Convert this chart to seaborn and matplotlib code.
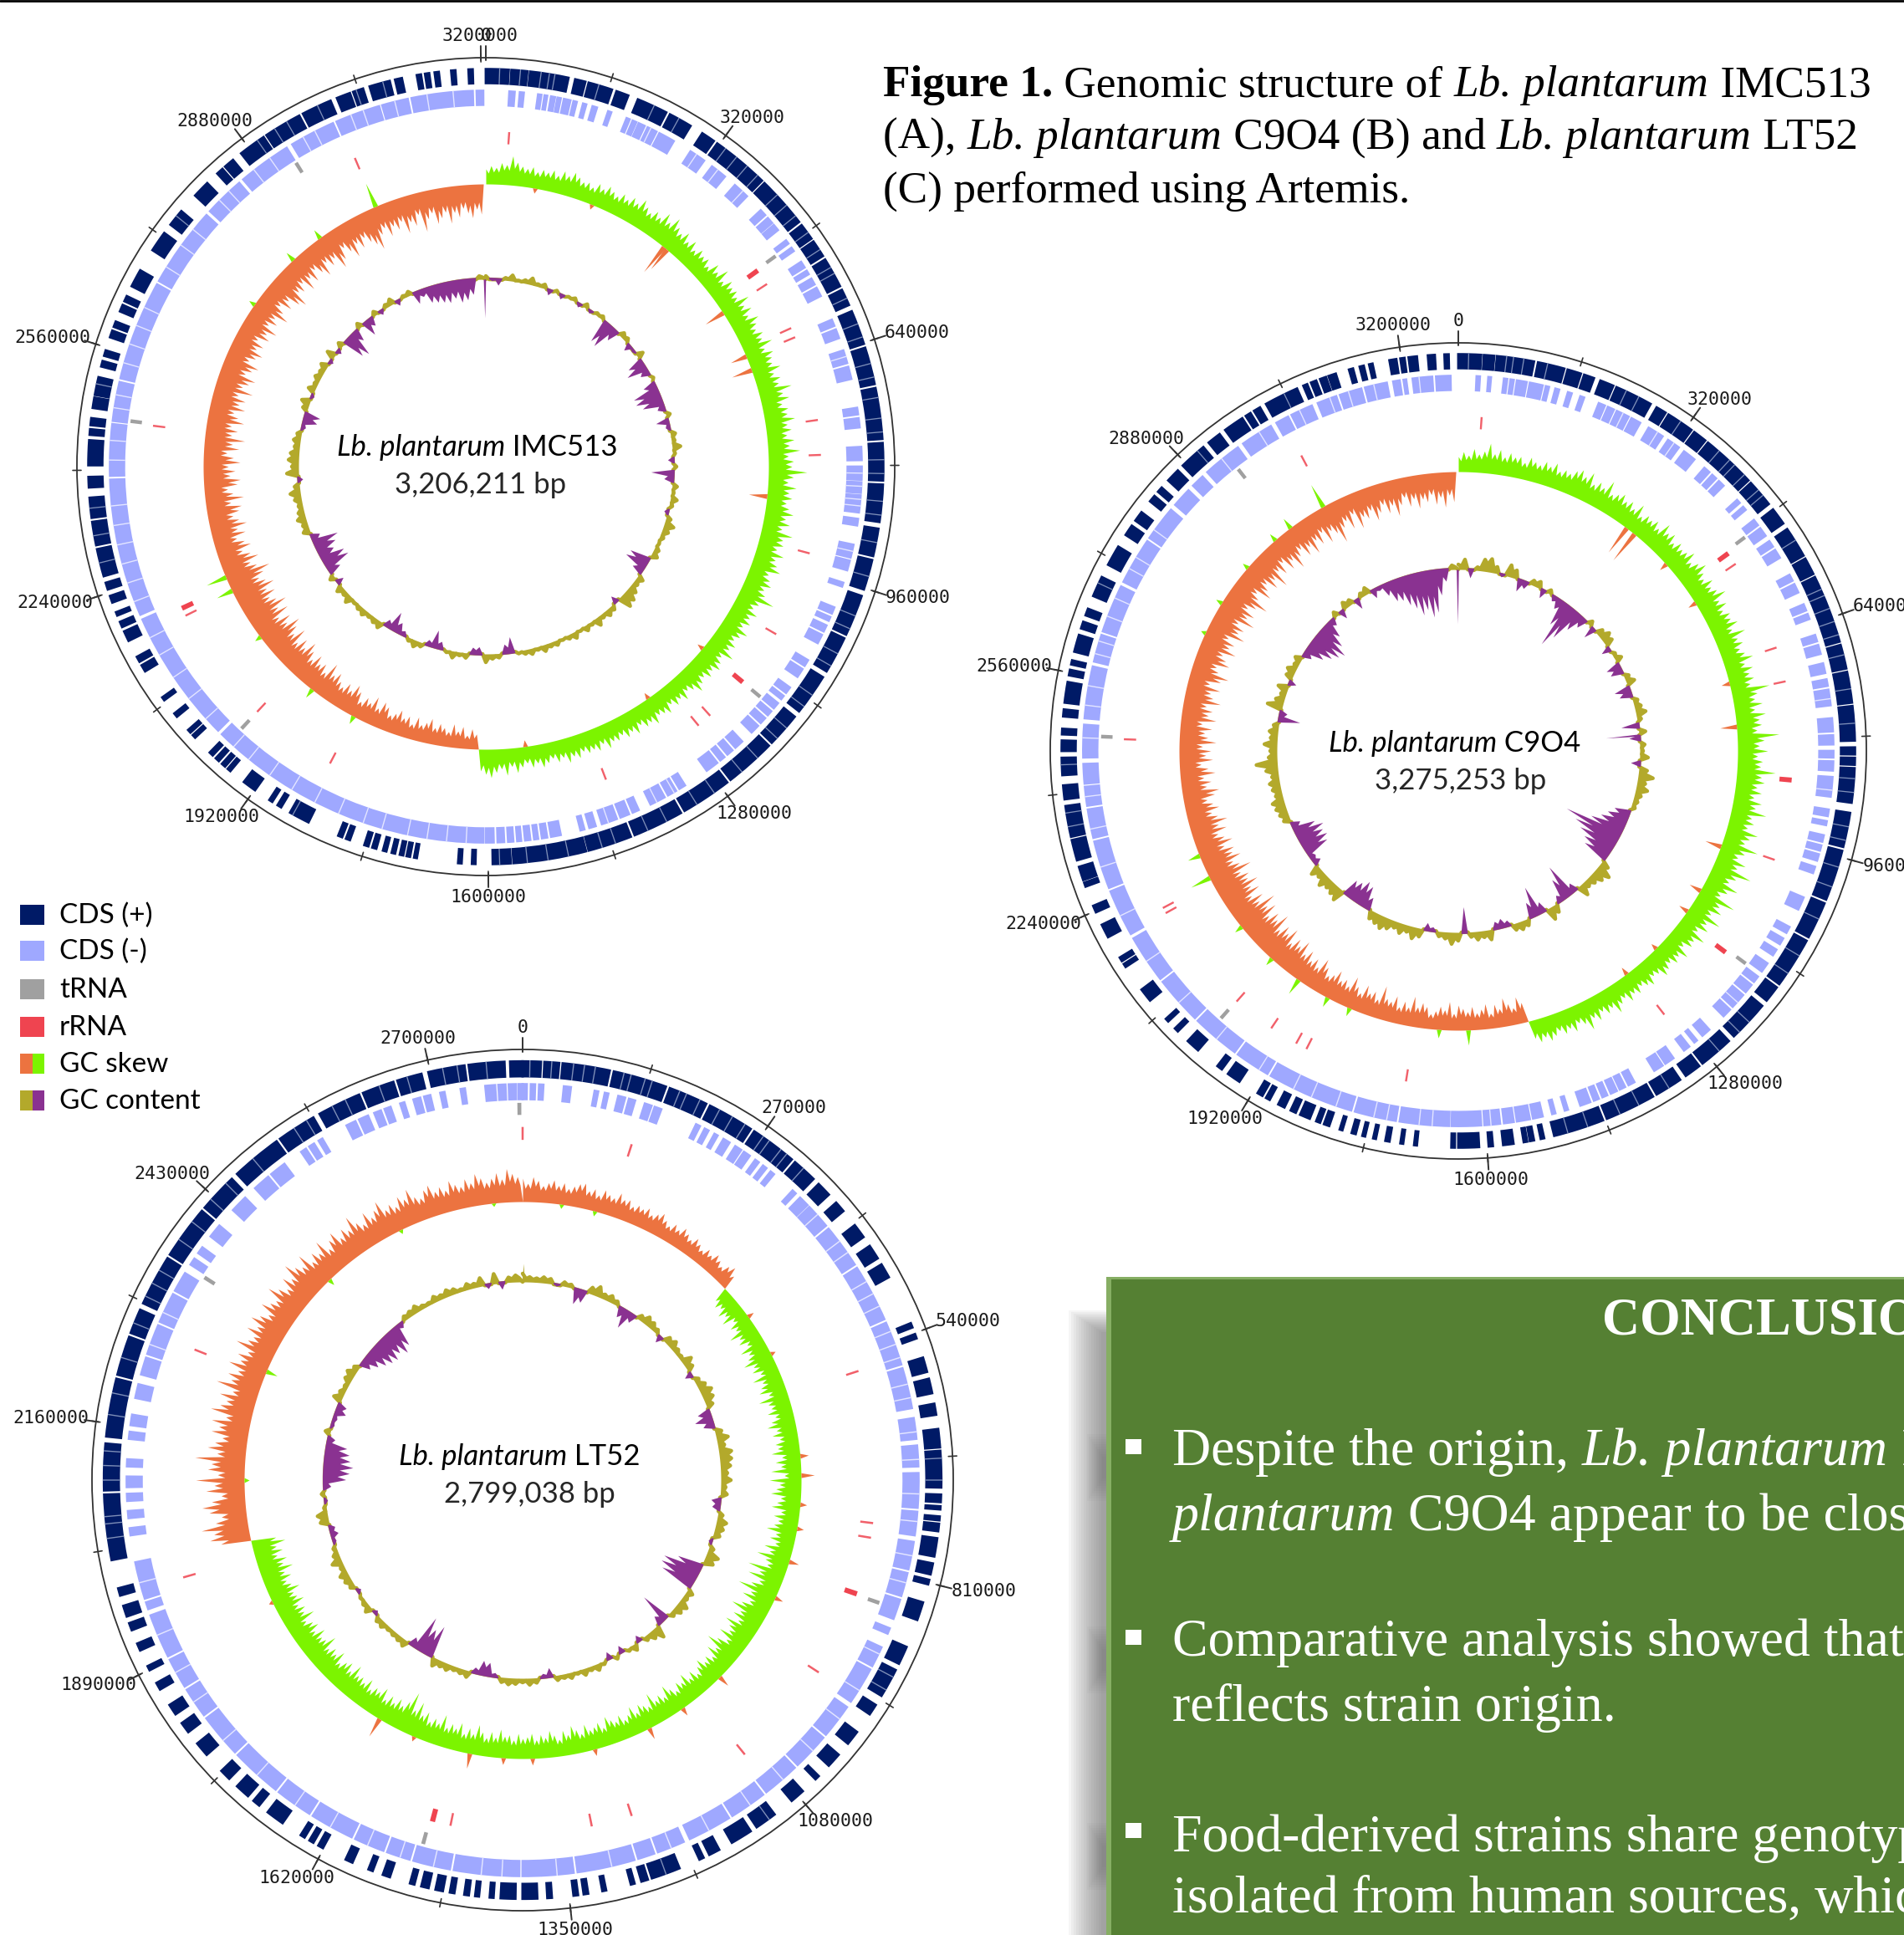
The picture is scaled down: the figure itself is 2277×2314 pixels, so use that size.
import numpy as np
import matplotlib.pyplot as plt
from matplotlib.patches import Rectangle
import seaborn as sns

sns.set_theme(style="white")
plt.rcParams['font.family'] = ['Lato', 'DejaVu Sans']

W, H = 2277, 2314

NAVY, PERI, GREY, RED = '#001a66', '#9fa8ff', '#a0a0a0', '#ef4450'
ORANGE, LIME, OLIVE, PURPLE = '#ec7340', '#7cf400', '#b3a92b', '#8a3291'

legend_names = ['CDS (+)', 'CDS (-)', 'tRNA', 'rRNA', 'GC skew', 'GC content']
legend_colors = [(NAVY,), (PERI,), (GREY,), (RED,), (ORANGE, LIME), (OLIVE, PURPLE)]

# ---- IMC513 (map positions in degrees clockwise from the origin)
a_plus = [(0,3.3),(3.7,6),(6.4,12),(13,14.5),(15,18.5),(19.2,21),(22.5,27),(27.6,31),(33,35),(35.6,44),(44.5,52),
 (52.6,55),(55.5,58),(58.6,63),(63.6,66),(67,72),(72.6,78),(78.6,86),(86.6,92),(92.6,98),(99,103),(103.6,108),(109,115),
 (115.6,121),(122,128),(129,134),(134.6,142),(142.6,150),(150.6,158),(158.6,165),(165.4,176),(176.4,179),(181.5,182),(183.5,184),
 (190,190.4),(191,191.5),(192,192.5),(193.2,193.7),(194.5,195),(196,196.6),(197.2,197.8),(200,200.6),(201.2,201.8),(206.5,209.5),
 (211,211.6),(212.5,213),(215.5,217.5),(220,220.5),(221,221.6),(222.2,222.8),(223.4,224),(227,227.5),(228,228.5),(231,231.6),(234,234.5),
 (239,240),(240.6,241.4),(244,245.5),(246.2,247),(248,248.5),(250,251),(252,253),(254,258),(258.6,262),(262.6,265.5),(267,268.5),(270.2,273.8),
 (274.6,275.4),(276,277),(278.5,280),(280.4,283),(284.6,285.4),(286.2,287),(289,290),(290.6,291.4),(293,294),(294.6,295.4),(297,299.6),
 (303,306),(307.5,310),(313,315.5),(317.5,318.5),(319,320.5),(322,326),(326.5,332),(332.6,337),(338,340),(340.5,342),(343,346),(346.8,347.8),
 (350,350.6),(351.2,351.8),(352.6,353.2),(355,355.6),(357.5,358.1)]
a_plus_gaps = [2,5,8,9.2,10,16.5,25,29,37,39,41,43,47,49,51,54,57,60,61,65,69,71,75,77,80,83,85,89,91,95,97,101,106,112,114,118,120,125,127,131,133,137,140,145,148,153,156,161,163,168,171,174,178,209,256,260,264,282,309,325,328,330,335,341,345]
a_minus = [(3.6,4.4),(5.2,5.8),(8,8.5),(9,9.4),(10,10.6),(11,11.5),(12,13),(13.5,14),(15,15.5),(16.5,17.2),(19,19.5),(22,22.5),(23,23.6),(24,25),(25.5,27),(27.5,30),
 (33,35.5),(37,39.5),(41.5,44),(47,48),(48.6,49.6),(50,51),(53,53.6),(54.4,55),(57,58),(58.6,59.2),(60,61),(61.6,63),(67,68),(68.6,70),(72,74),(74.6,76.5),
 (81,82),(82.6,84),(87,89),(90,92),(92.4,94),(94.4,97),(98,99),(102,104),(104.5,106),(108,108.6),(112,113),(113.6,114.2),(115,116),(116.6,118),(121,122),(122.6,124),
 (126,127),(127.6,128.2),(129,130),(130.6,131.4),(132,133),(133.6,135),(137,138.4),(139,140),(140.6,141.4),(142,144),(148,149),(149.6,151),(151.6,154),(156,157),(157.6,159),(159.6,162),
 (163,164),(164.8,165.4),(168.5,170),(170.6,171.4),(172,172.6),(173.2,174),(174.6,175.2),(175.8,176.6),(177.2,178.2),(178.8,180),(180.4,224.6),(225.4,246),(246.8,268),(268.6,276.5),
 (277,283),(283.6,299),(299.6,312),(312.8,319),(319.8,328),(329,336),(336.6,343.5),(344,348),(348.6,358),(358.6,359.6)]
a_minus_gaps = [26,34,38,43,73,91,93,95,96,103,150,153,161,183,186,189,192,196,199,203,207,211,215,219,222,228,232,236,240,243,249,252,255,258,261,264,271,274,279,281,286,289,292,295,302,306,309,315,317,322,325,331,333,339,341,346,351,355]
a_trna = [54, 130, 223, 277.3, 328]
a_rrna = [4, 57, 65.6, 67.3, 82, 88, 105, 120, 138, 140.6, 159, 207.7, 223, 243.6, 277, 337]
a_rrna_thick = [54.2, 130, 245]
a_skew = [18,22,20,26,24,35,28,24,22,25,20,24,22,26,21,28,24,30,26,22,
 24,20,27,23,29,25,22,28,24,30,26,34,28,24,30,26,36,28,38,30,
 26,32,24,30,22,28,24,26,20,30,24,34,22,30,26,28,24,36,26,32,
 24,34,28,24,30,26,36,24,32,28,26,34,24,30,26,40,28,34,24,30,
 28,36,26,30,24,32,26,38,24,30,28,46,30,24,34,26,30,24,28,34,
 26,32,24,38,28,30,24,34,26,30,36,24,28,32,26,30,44,28,24,32,
 26,30,24,34,28,24,30,26,36,24,28,32,26,30,24,28,34,26,22,30,
 24,28,22,30,26,24,32,26,28,22,30,24,28,22,26,24,30,22,28,24,
 26,22,28,24,30,22,26,20,24,28,22,26,20,24,30,22,32,24,28,34,30,26,
 -18,-24,-16,-26,-20,-28,-18,-22,-26,-20,-30,-24,-20,-28,-18,-26,-22,-30,
 -24,-20,-28,-32,-22,-34,-24,-28,-20,-30,-36,-26,-32,-24,-28,-36,-30,-42,-26,-34,
 -30,-38,-28,-36,-44,-32,-40,-30,-46,-34,-42,-50,-36,-44,-32,-48,-38,-52,-42,-36,
 -46,-38,-50,-42,-36,-44,-54,-40,-34,-46,-38,-30,-42,-36,-28,-40,-32,-44,-36,-30,
 -38,-42,-30,-46,-34,-28,-40,-44,-32,-38,-30,-44,-36,-28,-42,-34,-48,-32,-38,-30,
 -44,-36,-30,-42,-34,-40,-30,-46,-32,-38,-44,-30,-36,-42,-28,-34,-40,-30,-36,-26,
 -38,-32,-42,-28,-36,-30,-44,-34,-26,-38,-30,-42,-48,-32,-36,-28,-42,-30,-38,-26,
 -34,-42,-28,-36,-30,-46,-38,-26,-34,-44,-30,-38,-28,-36,-42,-50,-34,-28,-40,-30,
 -36,-28,-44,-32,-38,-26,-48,-34,-28,-42,-36,-30,-44,-32,-38,-28,-34,-40,-30,-36]
a_spike_deg = [10,22,39,39.8,57,67,70,96,130,145,172,208,218,233,244,247,305,317,324,337]
a_spike_val = [-6,-6,-38,-30,-25,-20,-25,-22,-8,-8,-8,10,12,8,20,25,8,12,12,30]
a_gc = [4,-2,-7,3,7,2,4,8,3,5,-6,3,-5,2,4,-4,5,-3,3,4,
 -28,-30,-14,6,5,-8,-2,8,-18,-24,-10,3,-14,-30,-30,-24,-8,5,-14,-4,
 6,4,10,3,-6,4,-26,-10,6,3,8,4,-4,6,12,8,5,3,6,8,
 -24,-26,-12,8,6,10,14,16,-8,6,8,5,10,4,7,3,8,5,3,6,
 5,8,4,7,5,3,-18,-10,5,6,10,-8,-7,6,4,8,3,-8,-20,-6,
 5,8,4,-5,-12,-22,-8,8,6,4,7,5,3,9,5,8,-8,6,-14,-30,
 -28,-18,-24,-30,-10,8,6,10,7,5,8,12,6,-5,14,8,12,10,6,8,
 5,-4,-16,-18,6,10,-3,8,4,7,5,8,-4,10,-5,6,-26,-30,-14,6,
 -18,-10,5,-5,4,7,-6,3,5,-14,-8,-18,-20,-22,-24,-20,-26,-24,-18,4]
a_gc_spike_deg = [359.6]
a_gc_spike_val = [-46]

# ---- C9O4
b_plus = [(0,3.3),(3.7,5.2),(5.6,11),(11.6,15.5),(16,18),(18.5,20),(21,23),(23.5,29),(30,31.5),(32,36),(36.5,38.5),(39,47),(47.5,51.5),
 (52.5,55),(56,60.5),(61,63.5),(64,74),(74.5,78),(78.5,83),(83.5,88.5),(89.5,90.5),(91,92),(92.5,97.5),(99,104),(104.6,112),(112.6,118),
 (118.6,126),(126.6,129),(130,136),(137,142),(142.6,145),(146,150),(150.6,158),(158.6,166),(167.5,168),(169,169.6),(170,170.5),(172,173.5),(175,175.6),(177,180),
 (180.5,181),(186,186.4),(188,188.4),(190,190.6),(192,192.4),(193.6,194),(195,195.6),(197,197.4),(199,199.8),(200.4,201),(202,203.5),(204.2,205),(206,207),(208.4,209),(209.6,210.4),
 (213.5,215.5),(216.6,217.4),(221,223),(225,225.6),(227,227.5),(231,233),(237,237.5),(238,238.6),(242,244),(246,247),(250,250.6),(251,253),(254,257),(257.5,262),(263,265),
 (266.5,269),(270,271.5),(272.4,273.2),(275,276),(277,280),(281,281.8),(282.6,283.2),(284.5,287),(288,289),(290,291),(293,296),(298,301),(303,304.6),(305.5,307),(309,310),
 (310.8,311.6),(313,315),(316,320),(321,323),(324,327),(327.6,328.4),(329,330),(331,336),(337,337.6),(338.2,339),(339.6,340.5),(340.9,342),(344,344.6),(345.6,346.2),(347,347.5),(350,351),(351.6,352.2),(352.8,354),(355.6,356.6),(358,358.6)]
b_plus_gaps = [1.5,7,8,9.5,13,25,27,34,41,43,44,46,49,50,58,66,67,69,71,73,76,81,86,94,96,101,103,107,110,115,121,124,133,135,139,148,153,156,161,164,259,261,268,295,319,334]
b_minus = [(2.8,3.3),(4.6,5),(7,7.5),(8,8.5),(9,10.5),(11,13),(13.5,14),(15,15.6),(17,17.6),(19,19.6),(22,23),(23.5,24.5),(25,27),(27.5,29),(30.5,33),(34,36),(37,39),(41,42),(42.6,43.4),(44,45),
 (48,48.6),(49.4,50),(52,53),(53.6,55),(56,57),(57.6,59),(62,63),(63.6,65),(67,68),(68.6,69.4),(72,73),(73.6,75),(76.5,78),(79,80),(80.6,83),(85,87),(87.6,89),(90,91),(91.6,93),(94,97),
 (99,100),(100.8,101.4),(103,104),(104.6,105.4),(106,107),(108,109),(113,115),(118,119),(120,121),(122,123),(124.5,126),(127,128),(128.6,130),(130.6,133),(133.6,135),(138,139.4),(140.5,141),(142,143),(145,146.5),(147,148.5),
 (152,153),(153.6,154.5),(155,156),(156.6,157.4),(158,158.8),(159.4,161),(163,163.5),(165,165.5),(167,168.5),(169,171),(171.5,173),(173.6,176),(176.5,181),(181.4,189),(189.6,196),(196.6,210),(210.6,216),(216.6,224),
 (224.6,232),(232.6,240),(240.8,248),(248.6,256),(256.6,261),(261.6,264.5),(265,268),(269,274),(275,283),(283.8,288),(288.6,296),(296.8,304),(304.6,310),(311,314),(315,317),(318,324),(325,330),(331,333),(333.6,337),(338,341),(341.6,345),(345.6,349),(350,351),(351.6,352),(353,356),(356.6,358.8)]
b_minus_gaps = [26,32,35,82,96,132,175,184,186,191,193,199,203,206,212,220,228,236,244,252,258,263,272,277,280,285,287,291,294,299,301,306,321,328,335,340,343,347,354]
b_trna = [53.3, 126.5, 221.6, 272.3, 322]
b_rrna = [4, 56, 72, 78, 109, 142, 189, 207, 209, 214, 221.5, 241, 242, 272, 332]
b_rrna_thick = [53.8, 95, 127]
b_skew = [18,24,20,28,22,26,36,24,30,22,28,24,26,20,28,24,22,28,24,30,
 22,26,24,30,34,28,36,24,30,26,38,24,28,32,26,30,24,34,22,28,
 26,30,24,36,28,32,24,30,26,28,34,24,30,36,28,24,32,26,30,38,
 26,32,24,30,28,34,24,38,26,30,24,28,36,24,32,26,30,24,46,30,
 26,34,24,36,28,30,24,50,32,26,36,24,30,28,46,30,34,26,32,24,
 34,28,42,26,30,24,38,30,26,44,30,24,36,28,48,32,26,40,30,24,
 46,30,36,26,42,28,34,24,38,28,30,22,34,26,30,24,28,32,24,22,
 30,26,22,28,24,30,22,26,34,24,28,22,30,24,36,26,22,30,24,28,
 22,26,30,24,28,22,
 -24,-32,-20,-26,-34,-22,-28,-18,-30,-24,-20,-28,-22,-26,
 -30,-20,-34,-24,-28,-22,-18,-26,-30,-24,-36,-22,-28,-20,-32,-24,-26,-40,-22,-30,
 -26,-34,-22,-28,-38,-24,-30,-26,-36,-28,-24,-32,-40,-26,-34,-28,-38,-30,-44,-34,
 -40,-30,-46,-36,-42,-32,-50,-38,-44,-34,-48,-40,-54,-36,-44,-32,-46,-38,-50,-40,
 -44,-36,-52,-40,-34,-46,-38,-42,-32,-44,-36,-30,-42,-34,-46,-36,-30,-40,-34,-28,
 -38,-44,-30,-36,-28,-42,-34,-26,-40,-32,-38,-28,-44,-34,-30,-38,-26,-42,-32,-36,
 -28,-44,-34,-30,-40,-26,-38,-46,-32,-28,-42,-36,-30,-44,-34,-38,-28,-46,-36,-40,
 -30,-48,-36,-42,-30,-38,-50,-34,-28,-44,-36,-30,-42,-34,-48,-30,-38,-26,-40,-32,
 -46,-34,-28,-40,-32,-44,-30,-38,-26,-42,-30,-36,-50,-34,-28,-40,-24,-44,-32,-36,
 -28,-42,-34,-26,-38,-30,-44,-32,-24,-36,-28,-40,-30,-34,-26,-38,-30,-42,-28,-36]
b_spike_deg = [37,39,48,58,76,85,110,120,125,135,143,178,184,203,208,215,222,231,243,248,295,302,311,319,323,331]
b_spike_val = [-36,-40,-10,-10,-10,-20,-20,-15,-12,-8,-10,18,10,10,12,20,10,10,25,15,6,8,8,10,14,30]
b_gc = [6,12,-10,4,14,16,8,-3,14,10,-14,-8,6,8,-10,5,-6,-12,-30,-55,
 -40,-22,-12,6,-14,8,12,10,-10,4,8,-16,-14,6,10,-18,-14,6,8,12,
 5,-20,8,-12,6,4,10,-10,10,18,10,14,8,6,5,-18,-24,-30,-40,-70,
 -55,-45,-35,-30,10,18,14,10,8,14,-10,-40,-26,-8,10,15,-12,-35,-18,8,
 10,8,-6,-10,-8,12,8,10,6,-30,10,14,8,6,-4,-8,10,14,8,12,
 8,12,15,12,10,-14,-25,-28,-22,-20,15,12,10,14,8,12,-8,-6,-28,-32,
 -30,-34,-26,-10,8,10,12,14,8,10,12,8,14,25,10,8,15,8,10,6,
 -25,-8,18,10,6,12,-8,8,10,5,8,-10,-22,-30,-36,-40,-30,-20,-8,6,
 -10,8,6,-12,5,8,-10,-4,-14,-24,-26,-34,-40,-50,-45,-55,-50,-30,-14,5]
b_gc_spike_deg = [85, 359.7]
b_gc_spike_val = [-40, -65]

# ---- LT52
c_plus = [(0,2.5),(3,5),(5.5,12),(12.6,20),(20.6,26),(26.6,33),(33.6,40),(40.6,44),(45,47),(48.5,50),(52.5,54.5),(56,58),(59,61),(68,68.6),(69.6,70.2),(73,75),(76,78),(79.5,81),
 (83,85.5),(86,91),(92,93),(93.6,94),(95,95.5),(96,97),(98,100.5),(101.5,103),(103.8,104.4),(107,109.5),(113.5,116),(117,121),(122.5,124),(127,129),(131,133),(135,135.6),(138,140),(143,146),(147,150),(152,153.5),(154.4,155),(158,162),(162.6,163.5),(164.5,165),(168.5,169),(171,171.6),(172.4,173),(176,176.6),
 (178,180),(181,183),(184,184.5),(186,186.5),(187.4,188),(189.4,190),(191,192),(193,194),(195,195.6),(198.5,199.5),(201,201.6),(204,205),(208.5,209.2),(210,210.6),(211.4,212),(215,217.5),(219,220),(221,223),(224.5,226),(229,231),(233,234.5),(236,237.5),(240,241),(243,243.6),(246,247),(249,250),(251,252.5),(254,255),
 (259,268),(268.6,275),(276,284),(284.6,290),(290.6,294),(295,302),(302.6,310),(310.6,316),(317,324),(324.6,330),(331,337),(337.6,342),(342.6,346),(347,352),(352.6,357.5),(358.3,360)]
c_plus_gaps = [1,4,7,8.5,10,14,15,17,18,22,23,25,28,30,32,35,36,38,39,42,87,90,118,120,144,160,262,264,265,270,272,274,279,282,287,292,296,298,300,305,308,312,315,320,327,329,333,335,340,344,349,351,355]
c_minus = [(0,0.6),(1.2,1.8),(2.4,3),(6,7),(10.5,11),(12,12.5),(14,15),(15.6,16.5),(18,19),(19.5,20.5),(26,26.6),(27.4,28),(29,29.5),(30.5,31.5),(32.5,33.5),(34,35),(36,36.6),(37.4,38),(38.8,39.4),(43,43.6),(44.5,46),
 (46.4,50),(50.6,57),(57.6,66),(66.6,73),(73.6,79.5),(81,84),(85,88),(89,94),(94.6,98),(99,103),(103.6,107),(107.6,110.5),(112,112.8),(115,118),(118.6,124),(125,130),(130.6,136),(136.6,142),(142.6,148),(148.6,155),(156,160),(160.6,163),(163.6,172),(172.6,180),(180.5,190),(190.6,196),(196.6,200),(200.6,205),
 (205.6,212),(212.6,218),(218.6,226),(226.6,233),(233.6,238),(238.6,243),(243.6,250),(251,252),(252.6,258),(262,263),(264.5,265.5),(267,268),(269,270.5),(272,273),(276,277),(278,279.5),(282,284),(285.5,288),(288.6,293),(293.6,298),(298.6,301.5),(303,304),(305,306),(308,310),(313,315.5),(317.5,320),(320.6,323),(326,326.8),(327.4,328.2),(329,329.6),(333.6,335),(335.6,337),(338,339),(339.6,340.5),(342,342.6),(344,345),(345.6,346.5),(348,348.6),(351,351.6),(354.6,356),(356.5,357.5),(358,359),(359.4,360)]
c_minus_gaps = [48,53,55,60,62,64,68,70,72,76,78,83,87,92,96,101,105,116,122,127,133,139,145,152,158,167,175,183,186,193,198,203,209,215,222,229,236,241,247,255,290,295]
c_trna = [109, 195.3, 302.5, 359.5]
c_rrna = [0, 18, 72, 97, 99.4, 123, 141, 162, 168.7, 191.8, 254, 291.7]
c_rrna_thick = [108.8, 194.8]
c_skew = [28,22,30,26,20,24,28,22,26,20,24,28,30,22,26,20,28,24,22,30,24,26,20,24,22,26,20,24,28,22,18,24,20,26,22,18,24,20,16,22,18,24,20,16,22,26,18,
 -18,-24,-20,-28,-22,-30,-18,-26,-22,-34,-24,-28,-20,
 -32,-24,-28,-36,-26,-30,-22,-34,-24,-28,-32,-22,-36,-26,-24,-30,-22,-28,-34,-24,
 -30,-22,-28,-26,-34,-22,-30,-24,-36,-20,-38,-26,-30,-36,-24,-28,-34,-22,-30,-24,
 -28,-36,-24,-30,-22,-34,-26,-40,-28,-24,-46,-30,-42,-26,-34,-48,-30,-38,-26,-34,
 -44,-30,-36,-26,-40,-32,-28,-38,-24,-34,-44,-28,-36,-24,-30,-26,-34,-28,-22,-30,
 -24,-34,-26,-30,-22,-28,-36,-24,-30,-26,-38,-24,-28,-32,-24,-34,-26,-22,-30,-24,
 -28,-34,-22,-30,-26,-24,-32,-22,-28,-34,-24,-30,-20,-26,-32,-24,-28,-22,-30,-26,
 -24,-30,-22,-28,-26,-34,-24,-30,-22,-28,-36,-24,-30,-22,-34,-26,-30,-24,-38,-26,
 -30,-24,-34,-28,-42,-30,-50,-36,-28,-34,-26,-32,-24,-36,-28,-30,-24,-34,-26,-30,
 -28,-38,-26,-34,-30,-24,-36,-28,-32,-26,-40,-30,-28,-36,-26,-34,-30,-24,-38,-28,
 -32,-26,-36,-30,-28,-38,-30,-26,-34,-28,-40,-30,-36,-26,-34,-28,-40,-30,
 36,48,42,56,38,30,44,52,40,28,46,36,58,32,44,40,60,34,46,38,30,44,
 36,46,30,50,40,34,44,30,52,36,42,32,46,34,40,30,48,36,32,44,
 34,46,38,30,44,36,32,48,38,30,42,34,50,40,34,46,30,38,32,44,
 28,36,42,30,38,32,46,34,28,40,30,36,44,30,34,28,38,32,42,30,
 26,34,38,28,32,26,36,30,26,34,28,38,32,26,30,36,28,40,34,30]
c_spike_deg = [8,15,54,63,85,89,95,100,107,115,135,145,153,165,178,184,191,203,211,244,270,293,316,334,354]
c_spike_val = [-5,-6,8,6,10,16,8,8,12,10,14,10,14,8,8,8,18,6,24,5,-6,-14,-8,-5,-4]
c_gc = [10,6,5,7,6,-2,5,4,-18,-14,8,12,6,8,5,-12,-22,-10,6,10,
 8,5,-8,8,10,6,4,12,8,-8,6,10,14,12,8,-14,-20,-12,8,14,
 8,15,14,12,8,12,6,8,-10,-8,6,12,10,8,-3,6,15,12,-30,-45,
 -45,-40,8,6,12,10,6,-35,-10,15,10,6,-7,8,4,-8,5,-8,4,8,
 5,8,4,7,5,6,-10,-4,6,8,5,7,8,6,-4,-15,-16,-6,8,6,
 5,8,7,10,-38,-30,-42,-10,8,6,5,4,7,6,-4,8,5,3,-4,6,
 8,10,5,12,7,4,-3,-8,-6,10,12,3,-3,4,-8,-26,-30,-34,-30,-28,
 -24,-8,6,-3,-4,-12,-10,10,6,4,8,10,6,-12,-18,-24,-28,-30,-26,-32,
 -26,-6,5,6,8,4,3,7,5,8,6,3,7,5,10,-5,12,-8,6,8]
c_gc_spike_deg = [0.2]
c_gc_spike_val = [22]

a_major = [320000,640000,960000,1280000,1600000,1920000,2240000,2560000,2880000,3200000]
c_major = [270000,540000,810000,1080000,1350000,1620000,1890000,2160000,2430000,2700000]

title_lines = [[('Figure 1.', 'normal', 'bold'), (' Genomic structure of ', 'normal', 'normal'), ('Lb. plantarum', 'italic', 'normal'), (' IMC513', 'normal', 'normal')],
               [('(A), ', 'normal', 'normal'), ('Lb. plantarum', 'italic', 'normal'), (' C9O4 (B) and ', 'normal', 'normal'), ('Lb. plantarum', 'italic', 'normal'), (' LT52', 'normal', 'normal')],
               [('(C) performed using Artemis.', 'normal', 'normal')]]
box_lines = [[('Despite the origin, ', 'normal'), ('Lb. plantarum', 'italic'), (' IMC513', 'normal')],
             [('plantarum', 'italic'), (' C9O4 appear to be closely', 'normal')],
             [('Comparative analysis showed that', 'normal')],
             [('reflects strain origin.', 'normal')],
             [('Food-derived strains share genotypic', 'normal')],
             [('isolated from human sources, which', 'normal')]]

fig = plt.figure(figsize=(W / 100, H / 100), dpi=100, facecolor='white')
bg = fig.add_axes([0, 0, 1, 1])
bg.set_xlim(0, W)
bg.set_ylim(H, 0)
bg.axis('off')
bg.plot([0, W], [1, 1], color='black', lw=2)


def runs(x, y, parts, size, family, color='black'):
    # text pieces in different styles, one after the other on the baseline
    rend = fig.canvas.get_renderer()
    for s, style, weight in parts:
        t = bg.text(x, y, s, fontsize=size, family=family, style=style, weight=weight, color=color, va='baseline', ha='left')
        x += t.get_window_extent(rend).width


def ring(ax, spans, r0, r1, color):
    sp = np.array(spans, dtype=float)
    ax.bar(np.deg2rad(sp.mean(axis=1)), r1 - r0, width=np.deg2rad(sp[:, 1] - sp[:, 0] + .35), bottom=r0, color=color, lw=0)


def marks(ax, degs, r0, r1, color, width, alpha=1.0):
    ax.bar(np.deg2rad(degs), r1 - r0, width=np.deg2rad(width), bottom=r0, color=color, lw=0, alpha=alpha)


def teeth(vals, notch):
    # saw edge: every sample is a tip, with a notch drawn between two tips
    v = np.array(vals + vals[:1], dtype=float)
    step = 360 / (len(v) - 1)
    x, y = [], []
    for i in range(len(v) - 1):
        x += [i * step, (i + .5) * step]
        same = v[i] * v[i + 1] > 0
        y += [v[i], np.sign(v[i]) * notch * min(abs(v[i]), abs(v[i + 1])) if same else 0]
    return np.deg2rad(x + [360]), np.array(y + [0.0])


def spikes(ax, degs, vals, base, up, down, half):
    for d, v in zip(degs, vals):
        t = np.deg2rad(d)
        w = np.deg2rad(half)
        ax.fill_between([t - w, t, t + w], [base] * 3, [base, base + v, base], color=up if v > 0 else down, lw=0, zorder=3)


def genome(cx, cy, R, size, major, plus, plus_gaps, minus, minus_gaps, trna, rrna, rrna_thick, skew, up, down,
           spike_deg, spike_val, skew_base, gc, gc_spike_deg, gc_spike_val, gc_base):
    ax = fig.add_axes([(cx - R) / W, 1 - (cy + R) / H, 2 * R / W, 2 * R / H], projection='polar')
    ax.patch.set_alpha(0)
    ax.set_theta_zero_location('N')
    ax.set_theta_direction(-1)

    ring(ax, plus, .935 * R, .975 * R, NAVY)
    marks(ax, plus_gaps, .935 * R, .975 * R, '#7f8fb8', .16)
    ring(ax, minus, .882 * R, .922 * R, PERI)
    marks(ax, minus_gaps, .882 * R, .922 * R, '#e4e6ff', .18)
    marks(ax, trna, .848 * R, .876 * R, GREY, .6)
    marks(ax, rrna, .79 * R, .82 * R, RED, .35, .85)
    marks(ax, rrna_thick, .79 * R, .82 * R, RED, .85)

    # GC skew, outward and inward from the base circle
    th, sk = teeth(skew, .72)
    ax.fill_between(th, skew_base, skew_base + np.clip(sk, 0, None), color=up, lw=0)
    ax.fill_between(th, skew_base, skew_base + np.clip(sk, None, 0), color=down, lw=0)
    spikes(ax, spike_deg, spike_val, skew_base, up, down, .5)

    # GC content
    tg, g = teeth(gc, .6)
    ax.fill_between(tg, gc_base, gc_base + np.clip(g, 0, None), color=OLIVE, lw=0)
    sns.lineplot(x=tg, y=gc_base + np.clip(g, 0, None), ax=ax, color=OLIVE, lw=3.2, estimator=None, sort=False, legend=False)
    ax.fill_between(tg, gc_base + 2, gc_base + np.clip(g, None, 0), where=g <= 0, color=PURPLE, lw=0, zorder=4)
    spikes(ax, gc_spike_deg, gc_spike_val, gc_base, OLIVE, PURPLE, .35)

    # scale ring with ticks and base pair labels
    step = major[0]
    for bp in np.arange(step / 2, size, step / 2):
        t = bp / size * 2 * np.pi
        ax.plot([t, t], [R - 5, R + 5], color='#333333', lw=1.2, clip_on=False)
    for bp in [0] + major:
        t = bp / size * 2 * np.pi
        ax.plot([t, t], [R - 3, R + 14], color='#333333', lw=1.4, clip_on=False)
        bg.text(cx + (R + 54) * np.sin(t), cy - (R + 26) * np.cos(t), str(bp), fontsize=15.5, family='DejaVu Sans Mono',
                color='#1a1a1a', ha='center', va='center')

    ax.set_rlim(0, R)
    ax.grid(False)
    ax.set_xticks([])
    ax.set_yticks([])
    ax.set_xlabel('')
    ax.set_ylabel('')
    ax.spines['polar'].set_color('#333333')
    ax.spines['polar'].set_linewidth(1.3)


# green conclusions box with its soft shadow
for i in range(14):
    bg.add_patch(Rectangle((1278 + i * 3, 1567 + i * 2), 60, H, color='#555555', alpha=.05, lw=0))
for by in [1755, 1985, 2220]:
    for i in range(10):
        bg.add_patch(Rectangle((1300 + i * 2, by - 40 + i * 3), 30, 80 - i * 6, color='#555555', alpha=.03, lw=0))
bg.add_patch(Rectangle((1323, 1527), W - 1323, H, color='#558033', lw=0))
bg.add_patch(Rectangle((1323, 1527), 6, H, color='#86ae63', lw=0))
bg.add_patch(Rectangle((1323, 1527), W - 1323, 2.5, color='#86ae63', lw=0))
for by in [1721, 1949, 2180]:
    bg.add_patch(Rectangle((1346, by), 19, 18, color='white', lw=0))

for parts, y in zip(title_lines, [115, 178, 242]):
    runs(1056, y, parts, 38.3, 'Liberation Serif')

runs(1916, 1596, [('CONCLUSIONS', 'normal', 'bold')], 45, 'Liberation Serif', 'white')
for parts, y in zip(box_lines, [1752, 1830, 1980, 2058, 2214, 2287]):
    runs(1402, y, [(s, st, 'normal') for s, st in parts], 46, 'Liberation Serif', 'white')

for i, (name, cols) in enumerate(zip(legend_names, legend_colors)):
    y = [1082, 1125, 1171, 1216, 1260, 1304][i]
    wd = 29 / len(cols)
    for j, c in enumerate(cols):
        bg.add_patch(Rectangle((24 + j * wd, y), wd, 24, color=c, lw=0))
    bg.text(71, y + 22, name, fontsize=24, family='Lato', va='baseline', ha='left', color='black')

genome(581, 558, 489, 3206211, a_major, a_plus, a_plus_gaps, a_minus, a_minus_gaps, a_trna, a_rrna, a_rrna_thick, a_skew, LIME, ORANGE,
       a_spike_deg, a_spike_val, 338, a_gc, a_gc_spike_deg, a_gc_spike_val, 224)
genome(1744, 898, 488, 3275253, a_major, b_plus, b_plus_gaps, b_minus, b_minus_gaps, b_trna, b_rrna, b_rrna_thick, b_skew, LIME, ORANGE,
       b_spike_deg, b_spike_val, 334, b_gc, b_gc_spike_deg, b_gc_spike_val, 217)
genome(625, 1770, 515, 2799038, c_major, c_plus, c_plus_gaps, c_minus, c_minus_gaps, c_trna, c_rrna, c_rrna_thick, c_skew, ORANGE, LIME,
       c_spike_deg, c_spike_val, 333, c_gc, c_gc_spike_deg, c_gc_spike_val, 237)

runs(403, 545, [('Lb. plantarum', 'italic', 'normal'), (' IMC513', 'normal', 'normal')], 25, 'Lato')
bg.text(575, 590, '3,206,211 bp', fontsize=25, family='Lato', ha='center', va='baseline')
runs(1589, 899, [('Lb. plantarum', 'italic', 'normal'), (' C9O4', 'normal', 'normal')], 25, 'Lato')
bg.text(1747, 944, '3,275,253 bp', fontsize=25, family='Lato', ha='center', va='baseline')
runs(477, 1752, [('Lb. plantarum', 'italic', 'normal'), (' LT52', 'normal', 'normal')], 25, 'Lato')
bg.text(633, 1797, '2,799,038 bp', fontsize=25, family='Lato', ha='center', va='baseline')

plt.savefig('out.png', dpi=100)
